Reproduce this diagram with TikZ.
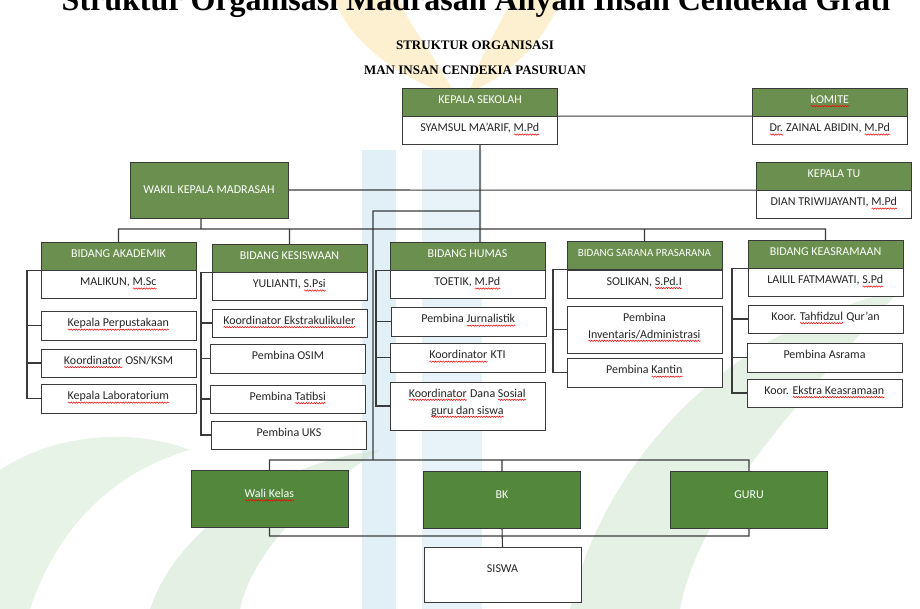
\documentclass[tikz,border=0pt]{standalone}
\usepackage{fontspec}
\setmainfont{Carlito}
\newfontfamily\judul{Liberation Serif}
\usepackage{tikz}
\usetikzlibrary{positioning,decorations.pathmorphing}
\definecolor{hijau}{RGB}{106,143,79}
\definecolor{hijaubawah}{RGB}{82,135,60}
\definecolor{garis}{RGB}{58,58,58}
\definecolor{teks}{RGB}{38,38,38}
\definecolor{kuning}{RGB}{250,222,150}
\definecolor{biru}{RGB}{205,228,242}
\definecolor{daun}{RGB}{205,228,205}
% garis merah bergelombang (cek ejaan)
\newsavebox\kotaksalah
\newlength\lebarsalah
\newcommand\salah[1]{\sbox\kotaksalah{#1}\setlength\lebarsalah{\wd\kotaksalah}\rlap{\usebox\kotaksalah}\tikz[baseline=0pt,x=1pt,y=1pt]\draw[red, line width=.5pt, decorate, decoration={snake, amplitude=.7pt, segment length=2.6pt}] (0pt,-2.8pt) -- (\lebarsalah,-2.8pt);}
\tikzset{
every node/.style={font=\fontsize{12}{17}\selectfont, inner sep=1pt}, % ukuran huruf semua kotak
head/.style={draw=garis, fill=hijau, text=white, minimum width=155pt, minimum height=28pt, text height=8.5pt, text depth=5.8pt}, % kotak hijau
nama/.style={draw=garis, fill=white, text=teks, minimum width=155pt, minimum height=28pt, text height=8.5pt, text depth=5.8pt}, % kotak putih
dua/.style={nama, align=center, text height=22pt, text depth=6pt}, % kotak dua baris
bawah/.style={draw=garis, fill=hijaubawah, text=white, minimum width=157pt, minimum height=57pt, text height=7pt, text depth=9pt}, % baris bawah
hubung/.style={draw=garis, line width=1.1pt}, % garis penghubung
}

\begin{document}
\begin{tikzpicture}[x=1pt,y=-1pt]
\useasboundingbox (0,0) rectangle (920,609);
% latar (logo samar)
\fill[kuning, opacity=.45] (335,0) .. controls (350,45) and (410,85) .. (455,95) .. controls (435,55) and (405,20) .. (400,0) -- cycle;
\fill[kuning, opacity=.45] (560,0) .. controls (545,45) and (500,80) .. (470,92) .. controls (480,50) and (505,20) .. (510,0) -- cycle;
\fill[biru, opacity=.6] (362,150) rectangle (396,609);
\fill[biru, opacity=.45] (422,150) rectangle (482,609);
\fill[daun, opacity=.55] (150,609) .. controls (180,520) and (290,460) .. (380,450) .. controls (300,500) and (250,560) .. (240,609) -- cycle;
\fill[daun, opacity=.5] (570,609) .. controls (600,470) and (720,330) .. (900,290) .. controls (820,380) and (700,500) .. (680,609) -- cycle;
\fill[daun, opacity=.45] (0,470) .. controls (60,430) and (140,430) .. (190,450) .. controls (120,470) and (60,520) .. (30,609) -- (0,609) -- cycle;

% judul
\node[font=\judul\bfseries\fontsize{32}{36}\selectfont, anchor=base, inner sep=0pt] (judul) at (476,11) {Struktur Organisasi Madrasah Aliyah Insan Cendekia Grati};
\node[font=\judul\bfseries\fontsize{13}{15}\selectfont, anchor=base, inner sep=0pt] (judul1) at (475,50) {STRUKTUR ORGANISASI};
\node[font=\judul\bfseries\fontsize{13}{15}\selectfont, anchor=base, inner sep=0pt] (judul2) at (475,75) {MAN INSAN CENDEKIA PASURUAN};

% pimpinan
\node[head] (kepala) at (480,102) {KEPALA SEKOLAH};
\node[nama, below=0pt of kepala] (kepalanm) {SYAMSUL MA’ARIF, \salah{M.Pd}};
\node[head] (komite) at (830,102) {\salah{kOMITE}};
\node[nama, below=0pt of komite] (komitenm) {\salah{Dr.} ZAINAL ABIDIN, \salah{M.Pd}};
\node[draw=garis, fill=hijau, text=white, minimum width=158pt, minimum height=56pt] (wakil) at (209,190) {WAKIL KEPALA MADRASAH};
\node[head] (tu) at (834,176) {KEPALA TU};
\node[nama, below=0pt of tu] (tunm) {DIAN TRIWIJAYANTI, \salah{M.Pd}};

% bidang
\node[head] (akademik) at (118.5,256) {BIDANG AKADEMIK};
\node[nama, below=0pt of akademik] (akademiknm) {MALIKUN, \salah{M.Sc}};
\node[head] (kesiswaan) at (289.5,258) {BIDANG KESISWAAN};
\node[nama, below=0pt of kesiswaan] (kesiswaannm) {YULIANTI, \salah{S.Psi}};
\node[head] (humas) at (467.5,256) {BIDANG HUMAS};
\node[nama, below=0pt of humas] (humasnm) {TOETIK, \salah{M.Pd}};
\node[head, font=\fontsize{11}{13}\selectfont] (sarpras) at (644.5,255.5) {BIDANG SARANA PRASARANA};
\node[nama, below=0pt of sarpras] (sarprasnm) {SOLIKAN, \salah{S.Pd.I}};
\node[head] (keasramaan) at (825.5,254) {BIDANG KEASRAMAAN};
\node[nama, below=0pt of keasramaan] (keasramaannm) {LAILIL FATMAWATI, \salah{S.Pd}};

% anggota bidang
\node[nama, minimum height=29pt] (perpus) at (118.5,325.5) {\salah{Kepala Perpustakaan}};
\node[nama] (osn) at (118.5,363) {\salah{Koordinator} OSN/KSM};
\node[nama, minimum height=29pt] (lab) at (118.5,398.5) {\salah{Kepala Laboratorium}};
\node[nama] (ekskul) at (289.5,323) {\salah{Koordinator Ekstrakulikuler}};
\node[nama, minimum height=29pt] (osim) at (288,358.5) {Pembina OSIM};
\node[nama] (tatibsi) at (288,399) {Pembina \salah{Tatibsi}};
\node[nama] (uks) at (289,435) {Pembina UKS};
\node[nama, minimum height=29pt] (jurnal) at (468.5,321.5) {Pembina \salah{Jurnalistik}};
\node[nama, minimum height=29pt] (kti) at (467.5,357.5) {\salah{Koordinator} KTI};
\node[dua, minimum height=48pt] (dansos) at (467.5,406) {\salah{Koordinator} Dana \salah{Sosial}\\\salah{guru dan siswa}};
\node[dua, minimum height=47pt, text height=23pt] (inventaris) at (644.5,329.5) {Pembina\\\salah{Inventaris/Administrasi}};
\node[nama, minimum height=29pt] (kantin) at (644.5,372.5) {Pembina \salah{Kantin}};
\node[nama] (tahfidz) at (825.5,319) {Koor. \salah{Tahfidzul} Qur’an};
\node[nama, minimum height=29pt] (asrama) at (824.5,357.5) {Pembina Asrama};
\node[nama] (ekstra) at (824.5,393) {Koor. \salah{Ekstra Keasramaan}};

% baris bawah
\node[bawah] (wali) at (269.5,498.5) {\salah{Wali Kelas}};
\node[bawah] (bk) at (502,499.5) {BK};
\node[bawah] (guru) at (749,499.5) {GURU};
\node[nama, minimum width=157pt, minimum height=55pt, text height=7pt, text depth=12pt] (siswa) at (502.5,574.5) {SISWA};

% titik bantu
\coordinate (bar) at (0,229);
\coordinate (belok) at (373,211);
\coordinate (bar2) at (0,460);
\coordinate (bar3) at (0,536);
\coordinate (kakad) at (27,0);
\coordinate (ksis) at (201,0);
\coordinate (khum) at (376,0);
\coordinate (ksar) at (553,0);
\coordinate (kasr) at (732,0);

% garis
\draw[hubung] (kepala.south east) -- (komite.south west)
 (wakil.east) -- (tu.south west)
 (kepalanm.south) -- (kepalanm.south |- humas.north)
 (akademik.north) -- (akademik.north |- bar) -| (keasramaan.north)
 ([xshift=-8pt]wakil.south) -- ([xshift=-8pt]wakil.south |- bar)
 (kesiswaan.north) -- (kesiswaan.north |- bar)
 (sarpras.north) -- (sarpras.north |- bar)
 (kepalanm.south |- belok) -- (belok) -- (belok |- bar2);
\draw[hubung] (akademik.south west) -| (lab.west -| kakad) -- (lab.west)
 (perpus.west) -- (perpus.west -| kakad)
 (osn.west) -- (osn.west -| kakad);
\draw[hubung] (kesiswaan.south west) -| (uks.west -| ksis) -- (uks.west)
 (ekskul.west) -- (ekskul.west -| ksis)
 (osim.west) -- (osim.west -| ksis)
 (tatibsi.west) -- (tatibsi.west -| ksis);
\draw[hubung] (humas.south west) -| (dansos.west -| khum) -- (dansos.west)
 (jurnal.west) -- (jurnal.west -| khum)
 (kti.west) -- (kti.west -| khum);
\draw[hubung] (sarpras.south west) -| (kantin.west -| ksar) -- (kantin.west)
 (inventaris.west) -- (inventaris.west -| ksar);
\draw[hubung] (keasramaan.south west) -| (ekstra.west -| kasr) -- (ekstra.west)
 (tahfidz.west) -- (tahfidz.west -| kasr)
 (asrama.west) -- (asrama.west -| kasr);
\draw[hubung] (wali.north) -- (wali.north |- bar2) -| (guru.north)
 (bk.north) -- (bk.north |- bar2)
 (wali.south) -- (wali.south |- bar3) -| (guru.south)
 (bk.south) -- (siswa.north);
\end{tikzpicture}
\end{document}
